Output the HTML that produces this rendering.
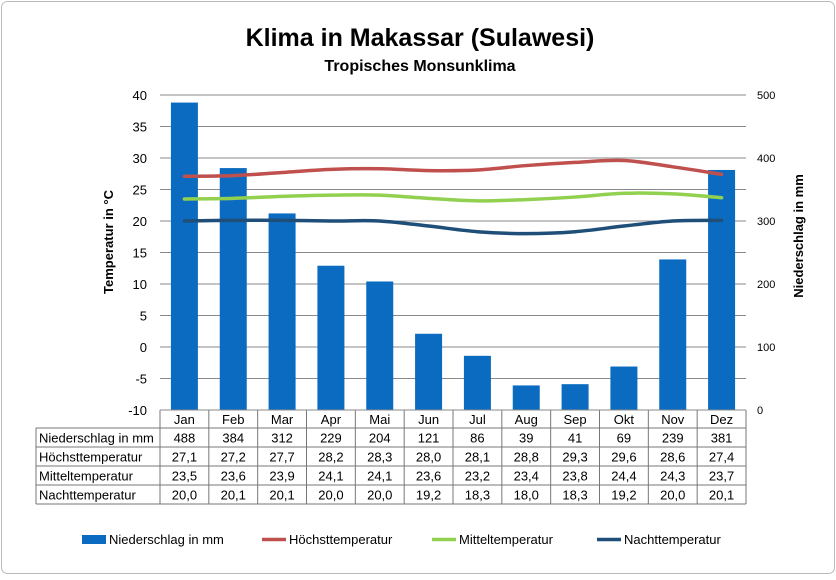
<!DOCTYPE html>
<html><head><meta charset="utf-8"><style>
body{margin:0;background:#fff;font-family:"Liberation Sans",Arial,sans-serif}
svg text{font-family:"Liberation Sans",Arial,sans-serif}
</style></head><body>
<svg id="c" width="836" height="575" xmlns="http://www.w3.org/2000/svg">
<rect x="1.5" y="1.5" width="833" height="572" rx="6" fill="#fff" stroke="#bbb"/>
<text x="420" y="46" text-anchor="middle" font-size="25" font-weight="bold">Klima in Makassar (Sulawesi)</text>
<text x="420" y="71" text-anchor="middle" font-size="16" font-weight="bold">Tropisches Monsunklima</text>
<text transform="translate(113,242) rotate(-90)" text-anchor="middle" font-size="13" font-weight="bold">Temperatur in °C</text>
<text transform="translate(803,236) rotate(-90)" text-anchor="middle" font-size="13" font-weight="bold">Niederschlag in mm</text>
<g id="g"></g>
</svg>
<script>
const months=["Jan","Feb","Mar","Apr","Mai","Jun","Jul","Aug","Sep","Okt","Nov","Dez"];
const rain=[488,384,312,229,204,121,86,39,41,69,239,381];
const tmax=[27.1,27.2,27.7,28.2,28.3,28.0,28.1,28.8,29.3,29.6,28.6,27.4];
const tmid=[23.5,23.6,23.9,24.1,24.1,23.6,23.2,23.4,23.8,24.4,24.3,23.7];
const tmin=[20.0,20.1,20.1,20.0,20.0,19.2,18.3,18.0,18.3,19.2,20.0,20.1];
const tempTicks=[40,35,30,25,20,15,10,5,0,-5,-10];
const rainTicks=[500,400,300,200,100,0];
const X0=160,X1=746,Y0=95,Y1=410,cw=(X1-X0)/12;
const yT=v=>Y1-(v+10)/50*(Y1-Y0);
const yR=v=>Y1-v/500*(Y1-Y0);
const xC=i=>X0+cw*(i+0.5);
const g=document.getElementById('g');const NS="http://www.w3.org/2000/svg";
function mk(t,a,txt){const e=document.createElementNS(NS,t);for(const k in a)e.setAttribute(k,a[k]);if(txt!=null)e.textContent=txt;g.appendChild(e);return e;}
tempTicks.forEach(t=>{
 const l=mk('line',{x1:X0,x2:X1,y1:yT(t),y2:yT(t),stroke:'#8a8a8a','stroke-width':1});
 
 
 const tx=mk('text',{x:147,y:yT(t)+5,'text-anchor':'end','font-size':13},String(t));
 
 
});
rainTicks.forEach(t=>{
 const tx=mk('text',{x:757,y:yR(t)+4,'font-size':11},String(t));
 
 
});
rain.forEach((v,i)=>{
 const b=mk('rect',{x:xC(i)-13.5,y:yR(v),width:27,height:Y1-yR(v),fill:'#0b6bc0'});
 
 
});
function smooth(vals){
 const p=vals.map((v,i)=>[xC(i),yT(v)]);let d='M'+p[0][0]+','+p[0][1];
 for(let i=0;i<p.length-1;i++){const a=p[i-1]||p[i],b=p[i],c=p[i+1],e=p[i+2]||c;
  d+=' C'+(b[0]+(c[0]-a[0])/6)+','+(b[1]+(c[1]-a[1])/6)+' '+(c[0]-(e[0]-b[0])/6)+','+(c[1]-(e[1]-b[1])/6)+' '+c[0]+','+c[1];}
 return d;}
[[tmax,'#c0504d','line-hoechsttemperatur'],[tmid,'#92d050','line-mitteltemperatur'],[tmin,'#1f4e79','line-nachttemperatur']].forEach(([s,c,n])=>{
 const p=mk('path',{d:smooth(s),fill:'none',stroke:c,'stroke-width':3.5,'stroke-linecap':'round'});
 
 
});
// table
const rows=[["",months],["Niederschlag in mm",rain.map(String)],["Höchsttemperatur",tmax.map(v=>v.toFixed(1).replace('.',','))],["Mitteltemperatur",tmid.map(v=>v.toFixed(1).replace('.',','))],["Nachttemperatur",tmin.map(v=>v.toFixed(1).replace('.',','))]];
const rb=[410,428,447,466,485,504];
const tc='#777';
mk('line',{x1:X0,x2:X0,y1:410,y2:504,stroke:tc});
mk('line',{x1:36,x2:36,y1:428,y2:504,stroke:tc});
for(let i=1;i<=12;i++)mk('line',{x1:X0+cw*i,x2:X0+cw*i,y1:410,y2:504,stroke:tc});
rb.forEach((y,k)=>mk('line',{x1:k==0?X0:36,x2:X1,y1:y,y2:y,stroke:k==0?'#888':tc}));
rows.forEach((r,k)=>{
 const y=(rb[k]+rb[k+1])/2+5;
 if(r[0]){const t=mk('text',{x:39,y:y,'font-size':13},r[0]);
  
  }
 r[1].forEach((v,i)=>{const t=mk('text',{x:xC(i),y:y,'text-anchor':'middle','font-size':13},v);
  
  });
});
// legend
const leg=[['rect','#0b6bc0','Niederschlag in mm',82],['line','#c0504d','Höchsttemperatur',262],['line','#92d050','Mitteltemperatur',432],['line','#1f4e79','Nachttemperatur',597]];
leg.forEach(([t,c,l,x])=>{
 if(t=='rect')mk('rect',{x:x,y:535,width:24,height:9,fill:c});
 else mk('line',{x1:x,x2:x+24,y1:539.5,y2:539.5,stroke:c,'stroke-width':3.5});
 const tx=mk('text',{x:x+27,y:544,'font-size':13},l);
 
 
});
</script>
</body></html>
